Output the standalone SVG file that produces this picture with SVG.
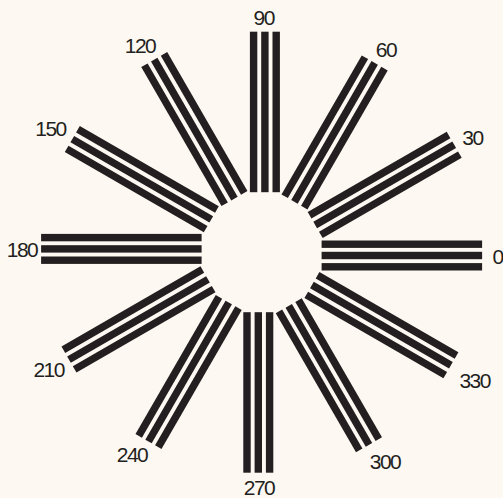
<svg xmlns="http://www.w3.org/2000/svg" xmlns:xlink="http://www.w3.org/1999/xlink" width="503" height="498" viewBox="0 0 503 498">
<style>
.bar{fill:#231f20}
.lbl{font-family:"Liberation Sans",Arial,sans-serif;font-size:21px;letter-spacing:-1.5px;fill:#231f20;text-anchor:middle}
</style>
<defs>
<g id="spoke">
<rect class="bar" x="321.6" y="240.5" width="160.5" height="7.4"/>
<rect class="bar" x="321.6" y="251.8" width="160.5" height="7.4"/>
<rect class="bar" x="321.6" y="263.1" width="160.5" height="7.4"/>
</g>
</defs>
<rect width="503" height="498" fill="#fdf8f2"/>
<g id="connectors"/>
<g id="s0"><use xlink:href="#spoke"/><text class="lbl" x="497.5" y="263.8">0</text></g>
<g id="s30"><use xlink:href="#spoke" transform="rotate(-30 261.6 252.2)"/><text class="lbl" x="472.5" y="144.5">30</text></g>
<g id="s60"><use xlink:href="#spoke" transform="rotate(-60 261.6 252.2)"/><text class="lbl" x="386" y="57">60</text></g>
<g id="s90"><use xlink:href="#spoke" transform="rotate(-90 261.6 252.2)"/><text class="lbl" x="263.7" y="25">90</text></g>
<g id="s120"><use xlink:href="#spoke" transform="rotate(-120 261.6 252.2)"/><text class="lbl" x="140" y="53.3">120</text></g>
<g id="s150"><use xlink:href="#spoke" transform="rotate(-150 261.6 252.2)"/><text class="lbl" x="50.5" y="136.3">150</text></g>
<g id="s180"><use xlink:href="#spoke" transform="rotate(-180 261.6 252.2)"/><text class="lbl" x="22" y="257.2">180</text></g>
<g id="s210"><use xlink:href="#spoke" transform="rotate(-210 261.6 252.2)"/><text class="lbl" x="48.7" y="376.7">210</text></g>
<g id="s240"><use xlink:href="#spoke" transform="rotate(-240 261.6 252.2)"/><text class="lbl" x="132" y="462">240</text></g>
<g id="s270"><use xlink:href="#spoke" transform="rotate(-270 261.6 252.2)"/><text class="lbl" x="259" y="495">270</text></g>
<g id="s300"><use xlink:href="#spoke" transform="rotate(-300 261.6 252.2)"/><text class="lbl" x="385" y="468.7">300</text></g>
<g id="s330"><use xlink:href="#spoke" transform="rotate(-330 261.6 252.2)"/><text class="lbl" x="474.7" y="387.5">330</text></g>
</svg>
